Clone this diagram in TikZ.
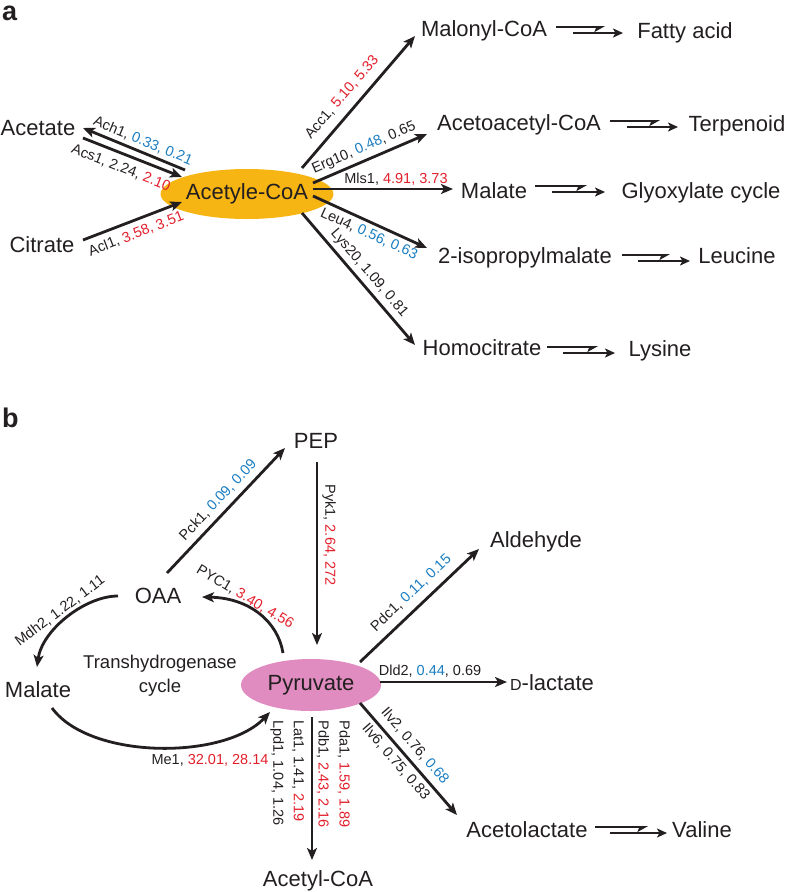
\documentclass[tikz,border=0pt]{standalone}
\usepackage{fontspec}
\setmainfont{Liberation Sans}
\usetikzlibrary{arrows.meta,shapes.geometric}
\definecolor{vred}{HTML}{E2202C}
\definecolor{vblue}{HTML}{1B7DC1}
\definecolor{ink}{HTML}{231F20}
\definecolor{acoafill}{HTML}{F7B514}
\definecolor{pyrfill}{HTML}{E08CC0}
\newcommand\Rd[1]{\textcolor{vred}{#1}}
\newcommand\Bl[1]{\textcolor{vblue}{#1}}
\begin{document}
\begin{tikzpicture}[x=1pt,y=-1pt,
  txt/.style={font=\fontsize{22}{26}\selectfont, text=ink, inner sep=0pt, anchor=base},
  lab/.style={font=\fontsize{14.5}{17}\selectfont, text=ink, inner sep=0pt},
  arr/.style={draw=ink, line width=2.8pt, -{Stealth[length=12pt,width=10pt,inset=3pt]}},
  dup/.style={draw=ink, line width=2.4pt, -{Stealth[harpoon,swap,length=9pt,width=10pt,inset=2pt]}},
  dlo/.style={draw=ink, line width=2.4pt, -{Stealth[length=10pt,width=9pt,inset=2.5pt]}},
  hub/.style={ellipse, inner sep=0pt, font=\fontsize{22}{24}\selectfont, text=ink},
  panel/.style={font=\bfseries\fontsize{27}{30}\selectfont, text=ink, inner sep=0pt, anchor=base west}]
\useasboundingbox (0,0) rectangle (788,892);

% ---------------- panel a ----------------
\node[panel] (pa) at (2,20) {a};
\node[hub, fill=acoafill, minimum width=134pt, minimum height=50pt] (acoa) at (247,194) {Acetyle-CoA};
\node[txt] (acetate) at (38,135) {Acetate};
\node[txt] (citrate) at (42,252) {Citrate};
\node[txt] (malonyl) at (484,36) {Malonyl-CoA};
\node[txt] (fatty) at (685,38) {Fatty acid};
\node[txt] (acetoac) at (519,130) {Acetoacetyl-CoA};
\node[txt] (terp) at (737,131) {Terpenoid};
\node[txt] (malate) at (494,198) {Malate};
\node[txt] (glyox) at (701,198) {Glyoxylate cycle};
\node[txt] (isoprop) at (525,263) {2-isopropylmalate};
\node[txt] (leucine) at (737,263) {Leucine};
\node[txt] (homocit) at (482,355) {Homocitrate};
\node[txt] (lysine) at (660,356) {Lysine};

\coordinate (achS) at (185,170); \coordinate (achE) at (83,128);
\coordinate (acsS) at (83,138);  \coordinate (acsE) at (182,177);
\coordinate (aclS) at (83,240);  \coordinate (aclE) at (182,202);
\coordinate (accS) at (302,168); \coordinate (accE) at (415,36);
\coordinate (ergS) at (313,183); \coordinate (ergE) at (427,134);
\coordinate (mlsS) at (313,189); \coordinate (mlsE) at (453,189);
\coordinate (leuS) at (313,196); \coordinate (leuE) at (427,248);
\coordinate (lysS) at (302,213); \coordinate (lysE) at (415,345);

\draw[arr] (achS) -- (achE);
\draw[arr] (acsS) -- (acsE);
\draw[arr] (aclS) -- (aclE);
\draw[arr] (accS) -- (accE);
\draw[arr] (ergS) -- (ergE);
\draw[arr] (mlsS) -- (mlsE);
\draw[arr] (leuS) -- (leuE);
\draw[arr] (lysS) -- (lysE);

\node[lab, rotate=-22.4] (lach) at (143,141) {Ach1, \Bl{0.33, 0.21}};
\node[lab, rotate=-21.5] (lacs) at (121,168) {Acs1, 2.24, \Rd{2.10}};
\node[lab, rotate=21] (lacl) at (136,234) {Acl1, \Rd{3.58, 3.51}};
\node[lab, rotate=49.4] (lacc) at (342,97) {Acc1, \Rd{5.10, 5.33}};
\node[lab, rotate=23.3] (lerg) at (364,148) {Erg10, \Bl{0.48}, 0.65};
\node[lab] (lmls) at (396,179) {Mls1, \Rd{4.91, 3.73}};
\node[lab, rotate=-24.5] (lleu) at (369,234) {Leu4, \Bl{0.56, 0.63}};
\node[lab, rotate=-49.4] (llys) at (369,273) {Lys20, 1.09, 0.81};

% double arrows panel a
\coordinate (m1a) at (556,27); \coordinate (m1b) at (605,27);
\coordinate (m2a) at (573,33); \coordinate (m2b) at (623,33);
\draw[dup] (m1a) -- (m1b); \draw[dlo] (m2a) -- (m2b);
\coordinate (t1a) at (610,121); \coordinate (t1b) at (660,121);
\coordinate (t2a) at (627,127); \coordinate (t2b) at (678,127);
\draw[dup] (t1a) -- (t1b); \draw[dlo] (t2a) -- (t2b);
\coordinate (g1a) at (535,186); \coordinate (g1b) at (587,186);
\coordinate (g2a) at (552,192); \coordinate (g2b) at (605,192);
\draw[dup] (g1a) -- (g1b); \draw[dlo] (g2a) -- (g2b);
\coordinate (l1a) at (622,255); \coordinate (l1b) at (670,255);
\coordinate (l2a) at (638,261); \coordinate (l2b) at (690,261);
\draw[dup] (l1a) -- (l1b); \draw[dlo] (l2a) -- (l2b);
\coordinate (y1a) at (547,347); \coordinate (y1b) at (598,347);
\coordinate (y2a) at (563,353); \coordinate (y2b) at (615,353);
\draw[dup] (y1a) -- (y1b); \draw[dlo] (y2a) -- (y2b);

% ---------------- panel b ----------------
\node[panel] (pb) at (2,427) {b};
\node[hub, fill=pyrfill, minimum width=140pt, minimum height=52pt] (pyr) at (311,685) {Pyruvate};
\node[txt] (pep) at (316,448) {PEP};
\node[txt] (oaa) at (158,603) {OAA};
\node[txt] (malb) at (38,697) {Malate};
\node[font=\fontsize{18.5}{24}\selectfont, text=ink, align=center, inner sep=0pt] (trans) at (160,676) {Transhydrogenase\\cycle};
\node[txt] (ald) at (536,547) {Aldehyde};
\node[txt] (dlac) at (552,690) {{\fontsize{16}{16}\selectfont D}-lactate};
\node[txt] (acetol) at (527,837) {Acetolactate};
\node[txt] (valine) at (702,837) {Valine};
\node[txt] (acetyl) at (318,886) {Acetyl-CoA};

\coordinate (pckS) at (167,573); \coordinate (pckE) at (285,448);
\coordinate (pykS) at (317,462); \coordinate (pykE) at (317,645);
\coordinate (pycS) at (283,653); \coordinate (pycE) at (202,597);
\coordinate (mdhS) at (118,596); \coordinate (mdhE) at (37,667);
\coordinate (meS) at (52,708);   \coordinate (meE) at (270,712);
\coordinate (pdcS) at (360,662); \coordinate (pdcE) at (479,549);
\coordinate (dldS) at (380,682); \coordinate (dldE) at (507,682);
\coordinate (ilvS) at (360,703); \coordinate (ilvE) at (457,815);
\coordinate (acS) at (312,717);  \coordinate (acE) at (312,860);

\draw[arr] (pckS) -- (pckE);
\draw[arr] (pykS) -- (pykE);
\draw[arr] (pycS) .. controls (278,622) and (250,598) .. (pycE);
\draw[arr] (mdhS) .. controls (85,596) and (42,630) .. (mdhE);
\draw[arr] (meS) .. controls (90,760) and (225,760) .. (meE);
\draw[arr] (pdcS) -- (pdcE);
\draw[arr] (dldS) -- (dldE);
\draw[arr] (ilvS) -- (ilvE);
\draw[arr] (acS) -- (acE);

\node[lab, rotate=46.6] (lpck) at (218,500) {Pck1, \Bl{0.09, 0.09}};
\node[lab, rotate=-90] (lpyk) at (329,535) {Pyk1, \Rd{2.64, 272}};
\node[lab, rotate=-31] (lpyc) at (245,597) {PYC1, \Rd{3.40, 4.56}};
\node[lab, rotate=37] (lmdh) at (60,611) {Mdh2, 1.22, 1.11};
\node[lab] (lme) at (210,760) {Me1, \Rd{32.01, 28.14}};
\node[lab, rotate=43.5] (lpdc) at (411,593) {Pdc1, \Bl{0.11, 0.15}};
\node[lab] (ldld) at (430,671) {Dld2, \Bl{0.44}, 0.69};
\node[lab, rotate=-49.1] (lilv2) at (415,746) {Ilv2, 0.76, \Bl{0.68}};
\node[lab, rotate=-49.1] (lilv6) at (396,762) {Ilv6, 0.75, 0.83};
\node[lab, rotate=-90] (llpd) at (277,773) {Lpd1, 1.04, 1.26};
\node[lab, rotate=-90] (llat) at (298,771) {Lat1, 1.41, \Rd{2.19}};
\node[lab, rotate=-90] (lpdb) at (323,774) {Pdb1, \Rd{2.43, 2.16}};
\node[lab, rotate=-90] (lpda) at (344,774) {Pda1, \Rd{1.59, 1.89}};

\coordinate (v1a) at (595,827); \coordinate (v1b) at (648,827);
\coordinate (v2a) at (610,833); \coordinate (v2b) at (667,833);
\draw[dup] (v1a) -- (v1b); \draw[dlo] (v2a) -- (v2b);
\end{tikzpicture}
\end{document}
